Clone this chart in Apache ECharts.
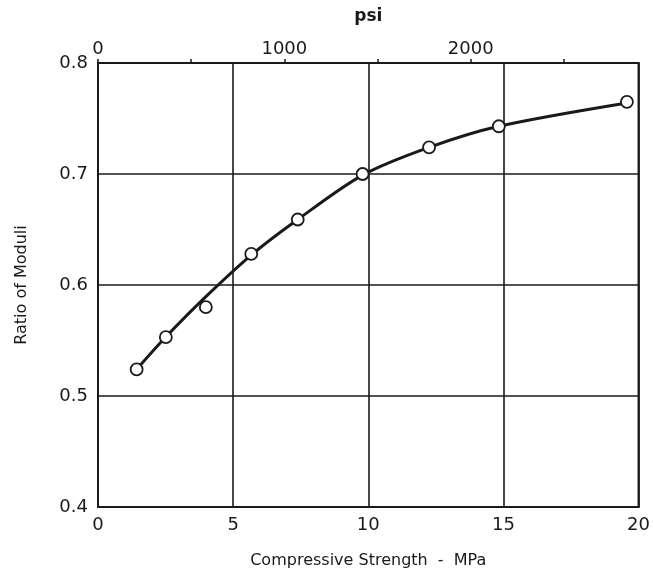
<!DOCTYPE html>
<html>
<head>
<meta charset="utf-8">
<script src="https://cdn.jsdelivr.net/npm/echarts@6/dist/echarts.min.js"></script>
<style>
html,body{margin:0;padding:0;background:#fff;}
#chart{width:653px;height:582px;}
</style>
</head>
<body>
<div id="chart"></div>
<script>
// Measured points (compressive strength MPa, ratio of moduli)
const strengthMPa = [1.43, 2.51, 3.99, 5.67, 7.39, 9.79, 12.25, 14.83, 19.57];
const ratioMeasured = [0.524, 0.553, 0.580, 0.628, 0.659, 0.700, 0.724, 0.743, 0.765];
// Fitted curve
const curveMPa = [1.43, 2.54, 4.01, 5.67, 7.39, 9.79, 12.25, 14.83, 19.57];
const curveRatio = [0.524, 0.554, 0.590, 0.627, 0.659, 0.699, 0.724, 0.743, 0.764];
const mpaTicks = [0, 5, 10, 15, 20];
const psiLabels = [0, 1000, 2000];
const ratioTicks = [0.4, 0.5, 0.6, 0.7, 0.8];
const PSI_PER_MPA = 145.0377;

const font = 'DejaVu Sans';
const ink = '#1a1a1a';

const chart = echarts.init(document.getElementById('chart'));
chart.setOption({
  animation: false,
  backgroundColor: '#fff',
  grid: {left: 98, right: 13, top: 63, bottom: 75, show: true, borderColor: ink, borderWidth: 2, backgroundColor: 'transparent'},
  xAxis: [
    {
      type: 'value', position: 'bottom', min: mpaTicks[0], max: mpaTicks[mpaTicks.length - 1], interval: 5,
      name: 'Compressive Strength  -  MPa', nameLocation: 'middle', nameGap: 46,
      nameTextStyle: {fontFamily: font, fontSize: 16, color: ink},
      axisLine: {show: true, lineStyle: {color: ink, width: 2}},
      axisTick: {show: false},
      axisLabel: {fontFamily: font, fontSize: 18, color: ink, margin: 9},
      splitLine: {show: true, lineStyle: {color: ink, width: 1.6}}
    },
    {
      type: 'value', position: 'top', min: 0, max: mpaTicks[mpaTicks.length - 1] * PSI_PER_MPA, interval: 500,
      name: 'psi', nameLocation: 'middle', nameGap: 38,
      nameTextStyle: {fontFamily: font, fontSize: 17, fontWeight: 'bold', color: ink},
      axisLine: {show: true, lineStyle: {color: ink, width: 2}},
      axisTick: {show: true, length: 4, inside: false, lineStyle: {color: ink, width: 1.5}},
      axisLabel: {fontFamily: font, fontSize: 18, color: ink, margin: 5, showMaxLabel: false,
        formatter: v => psiLabels.includes(v) ? String(v) : ''},
      splitLine: {show: false}
    }
  ],
  yAxis: {
    type: 'value', min: ratioTicks[0], max: ratioTicks[ratioTicks.length - 1], interval: 0.1,
    name: 'Ratio of Moduli', nameLocation: 'middle', nameGap: 68,
    nameTextStyle: {fontFamily: font, fontSize: 16, color: ink},
    axisLine: {show: true, lineStyle: {color: ink, width: 2}},
    axisTick: {show: false},
    axisLabel: {fontFamily: font, fontSize: 18, color: ink, margin: 10, formatter: v => v.toFixed(1)},
    splitLine: {show: true, lineStyle: {color: ink, width: 1.6}}
  },
  series: [
    {
      type: 'line', xAxisIndex: 0, smooth: 0.3, showSymbol: false,
      data: curveMPa.map((x, i) => [x, curveRatio[i]]),
      lineStyle: {color: ink, width: 3}, z: 3
    },
    {
      type: 'scatter', xAxisIndex: 0,
      data: strengthMPa.map((x, i) => [x, ratioMeasured[i]]),
      symbol: 'circle', symbolSize: 12,
      itemStyle: {color: '#ffffff', opacity: 1, borderColor: ink, borderWidth: 1.8}, z: 5
    }
  ]
});
</script>
</body>
</html>
